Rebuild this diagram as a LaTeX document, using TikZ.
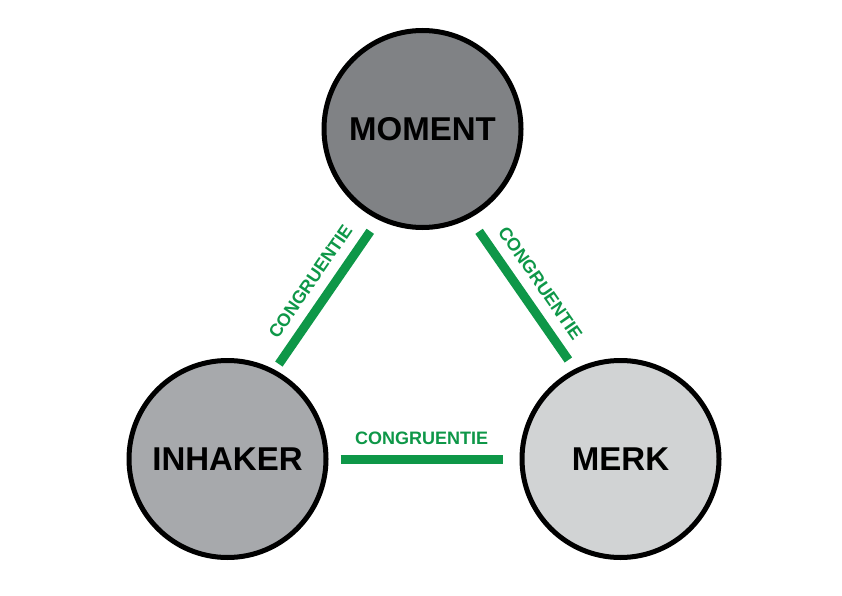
\documentclass[tikz,border=0pt]{standalone}
\usepackage{fontspec}
\setmainfont{Liberation Sans}
\begin{document}
\begin{tikzpicture}[x=1pt,y=1pt,
  every node/.style={font=\bfseries},
  bigcircle/.style={circle,draw=black,line width=5pt,minimum size=197pt,inner sep=0pt,font=\fontsize{33}{36}\selectfont\bfseries},
  link/.style={draw=linkgreen,line width=9pt},
  linklabel/.style={sloped,above=10pt,inner sep=0pt,text=linkgreen,font=\fontsize{18}{20}\selectfont\bfseries}]
\definecolor{linkgreen}{HTML}{0E9748}
\definecolor{gdark}{HTML}{808285}
\definecolor{gmid}{HTML}{A7A9AC}
\definecolor{glight}{HTML}{D1D3D4}
\useasboundingbox (0,0) rectangle (842,595);
\node[bigcircle,fill=gdark] (moment) at (422.5,466) {MOMENT};
\node[bigcircle,fill=gmid] (inhaker) at (227.5,136) {INHAKER};
\node[bigcircle,fill=glight] (merk) at (620.5,136) {MERK};
\draw[link,shorten <=14pt,shorten >=7pt] (moment.244.6) -- node[linklabel,pos=0.49] (lab1) {CONGRUENTIE} (inhaker.62.3);
\draw[link,shorten <=16pt,shorten >=11pt] (moment.298.3) -- node[linklabel,pos=0.51] (lab2) {CONGRUENTIE} (merk.117.9);
\draw[link,shorten <=12pt,shorten >=17pt] (inhaker) -- node[linklabel,pos=0.487] (lab3) {CONGRUENTIE} (merk);
\end{tikzpicture}
\end{document}
